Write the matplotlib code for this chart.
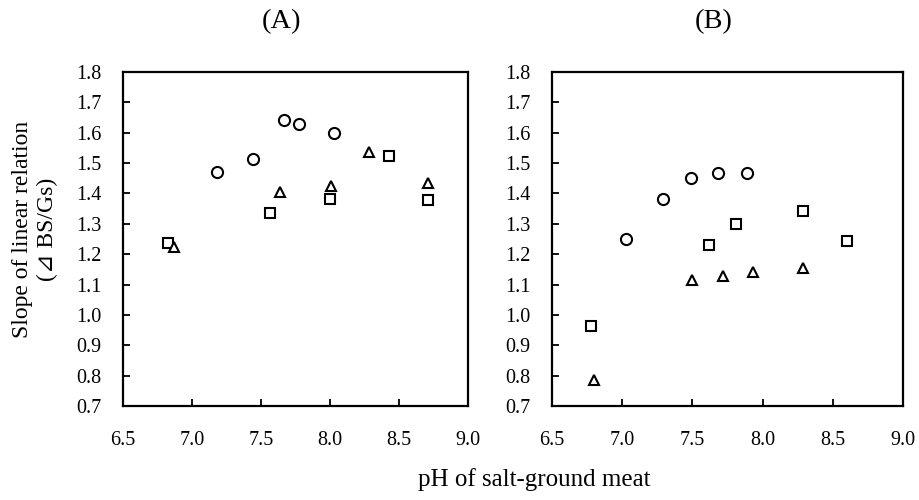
import matplotlib.pyplot as plt

plt.rcParams['font.family'] = ['Liberation Serif', 'DejaVu Serif', 'DejaVu Sans']

# panel A: pH vs slope
a_circle_x = [7.18, 7.44, 7.67, 7.78, 8.03]
a_circle_y = [1.47, 1.515, 1.642, 1.629, 1.600]
a_square_x = [6.83, 7.57, 8.00, 8.43, 8.71]
a_square_y = [1.238, 1.337, 1.381, 1.524, 1.379]
a_tri_x = [6.87, 7.64, 8.01, 8.28, 8.71]
a_tri_y = [1.224, 1.406, 1.426, 1.536, 1.435]

# panel B
b_circle_x = [7.03, 7.29, 7.49, 7.68, 7.89]
b_circle_y = [1.251, 1.381, 1.450, 1.467, 1.467]
b_square_x = [6.78, 7.62, 7.81, 8.29, 8.60]
b_square_y = [0.964, 1.231, 1.301, 1.343, 1.244]
b_tri_x = [6.80, 7.50, 7.72, 7.93, 8.29]
b_tri_y = [0.784, 1.116, 1.127, 1.140, 1.153]

xticks = [6.5, 7.0, 7.5, 8.0, 8.5, 9.0]
yticks = [0.7, 0.8, 0.9, 1.0, 1.1, 1.2, 1.3, 1.4, 1.5, 1.6, 1.7, 1.8]

fig = plt.figure(figsize=(9.2, 5.0), dpi=100)
axA = fig.add_axes([122.7/920, 1-406/500, 345.3/920, 334/500])
axB = fig.add_axes([552/920, 1-406/500, 351/920, 334/500])

panels = [
    (axA, '(A)', a_circle_x, a_circle_y, a_square_x, a_square_y, a_tri_x, a_tri_y),
    (axB, '(B)', b_circle_x, b_circle_y, b_square_x, b_square_y, b_tri_x, b_tri_y),
]

mk = dict(linestyle='none', mfc='white', mec='black', mew=1.5)
for ax, title, cx, cy, sx, sy, tx, ty in panels:
    ax.plot(cx, cy, marker='o', ms=8, **mk)
    ax.plot(sx, sy, marker='s', ms=7.5, **mk)
    ax.plot(tx, ty, marker='^', ms=7.5, **mk)
    ax.set_xlim(6.5, 9.0)
    ax.set_ylim(0.7, 1.8)
    ax.set_xticks(xticks)
    ax.set_yticks(yticks)
    ax.set_xticklabels([f'{v:.1f}' for v in xticks])
    ax.set_yticklabels([f'{v:.1f}' for v in yticks])
    ax.tick_params(axis='x', direction='in', length=5, width=1.3, pad=18, labelsize=14.5)
    ax.tick_params(axis='y', direction='in', length=5, width=1.3, pad=15.5, labelsize=14.5)
    for s in ax.spines.values():
        s.set_linewidth(1.6)
    ax.text(0.46, 1.15, title, transform=ax.transAxes, ha='center', va='center', fontsize=20.5)

fig.text(534/920, 1-480/500, 'pH of salt-ground meat', ha='center', va='center', fontsize=18)
fig.text(35/920, 1-229/500, 'Slope of linear relation\n(⊿ BS/Gs)', ha='center', va='center',
         rotation=90, fontsize=17, linespacing=1.25)

fig.savefig('out.png', dpi=100)
